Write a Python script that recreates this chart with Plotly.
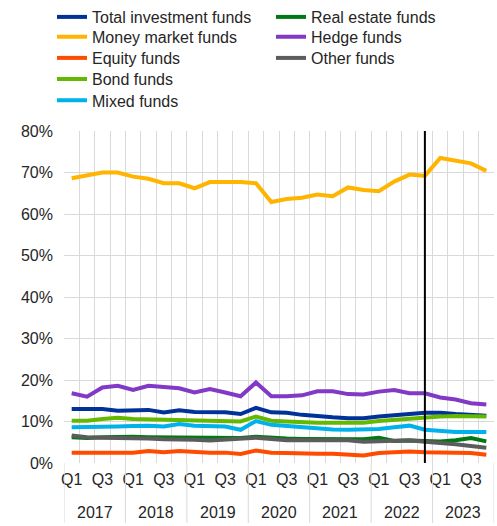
import plotly.graph_objects as go

# Quarterly periods 2017 Q1 - 2023 Q4
years = [2017, 2018, 2019, 2020, 2021, 2022, 2023]
quarter_labels = ["Q1", "", "Q3", ""]
periods = [f"{y} Q{q}" for y in years for q in range(1, 5)]

# Shares in percent, one value per quarter
total_investment = [13.0, 13.0, 13.0, 12.6, 12.8, 12.8, 12.2, 12.7, 12.3, 12.3,
                    12.2, 11.8, 13.3, 12.2, 12.1, 11.6, 11.2, 11.0, 10.8, 10.8,
                    11.2, 11.6, 11.8, 12.1, 12.1, 11.8, 11.7, 11.4]
money_market = [68.6, 69.4, 70.0, 70.0, 69.0, 68.5, 67.4, 67.4, 66.2, 67.7,
                67.7, 67.7, 67.4, 62.9, 63.6, 63.9, 64.7, 64.3, 66.4, 65.8,
                65.5, 67.8, 69.5, 69.2, 73.5, 72.9, 72.2, 70.4]
equity = [2.5, 2.5, 2.5, 2.5, 2.5, 2.9, 2.6, 2.9, 2.6, 2.5,
          2.5, 2.2, 3.0, 2.5, 2.4, 2.2, 2.2, 2.2, 2.1, 1.8,
          2.4, 2.6, 2.8, 2.6, 2.5, 2.5, 2.4, 2.0]
bond = [10.2, 10.2, 10.6, 10.9, 10.6, 10.5, 10.6, 10.5, 10.4, 10.3,
        10.2, 10.0, 11.2, 10.2, 10.0, 9.8, 9.7, 9.7, 9.7, 9.7,
        10.1, 10.4, 10.8, 10.9, 11.2, 11.3, 11.2, 11.2]
mixed = [8.6, 8.6, 8.8, 8.8, 8.9, 9.0, 8.8, 9.4, 9.0, 9.0,
         8.8, 8.0, 10.1, 9.2, 8.9, 8.5, 8.2, 8.1, 8.0, 8.0,
         8.2, 8.6, 9.0, 8.0, 7.7, 7.5, 7.5, 7.5]
real_estate = [6.2, 6.0, 6.2, 6.3, 6.3, 6.2, 6.2, 6.2, 6.2, 6.2,
               6.1, 6.0, 6.3, 6.0, 5.9, 5.8, 5.8, 5.8, 5.6, 5.7,
               6.1, 5.3, 5.4, 5.2, 5.2, 5.5, 6.0, 5.2]
hedge = [16.8, 16.0, 18.2, 18.6, 17.6, 18.6, 18.3, 18.0, 17.0, 17.8,
         17.0, 16.1, 19.4, 16.1, 16.1, 16.3, 17.3, 17.3, 16.6, 16.5,
         17.2, 17.6, 16.8, 16.8, 15.8, 15.3, 14.4, 14.1]
other = [6.6, 6.2, 6.1, 6.1, 6.0, 5.9, 5.7, 5.7, 5.6, 5.4,
         5.6, 5.7, 6.1, 5.8, 5.5, 5.5, 5.5, 5.5, 5.5, 5.1,
         5.3, 5.5, 5.5, 5.1, 4.9, 4.5, 4.1, 3.7]

# name, values, colour, legend column, legend row
series = [
    ("Total investment funds", total_investment, "#003299", 0, 0),
    ("Money market funds", money_market, "#FFB400", 0, 1),
    ("Equity funds", equity, "#FF4B00", 0, 2),
    ("Bond funds", bond, "#65B800", 0, 3),
    ("Mixed funds", mixed, "#00B1EA", 0, 4),
    ("Real estate funds", real_estate, "#007816", 1, 0),
    ("Hedge funds", hedge, "#8139C6", 1, 1),
    ("Other funds", other, "#5C5C5C", 1, 2),
]

W, H = 497, 526
FONT = "Liberation Sans, Arial, sans-serif"
TEXT = "#262626"
GRID = "#d9d9d9"
FS = 16

# legend layout in pixels (left edge of each legend box, centre of first row)
LEG_COL_X = [52, 271]
LEG_ROW0 = 15.5
LEG_ROW_STEP = 21.2
LEG_TOP_OFFSET = 16.9

x = list(range(len(periods)))
fig = go.Figure()
legends = {}
for i, (name, vals, color, col, row) in enumerate(series):
    key = "legend" if i == 0 else f"legend{i + 1}"
    fig.add_trace(go.Scatter(
        x=x, y=vals, name=name, mode="lines", legend=key,
        line=dict(color=color, width=4),
        customdata=periods,
        hovertemplate="%{customdata}: %{y:.1f}%<extra>" + name + "</extra>",
    ))
    top_px = max(0.0, LEG_ROW0 + row * LEG_ROW_STEP - LEG_TOP_OFFSET)
    legends[key] = dict(
        xref="container", yref="container",
        x=LEG_COL_X[col] / W, y=1 - top_px / H,
        xanchor="left", yanchor="top",
        bgcolor="rgba(0,0,0,0)", borderwidth=0,
        font=dict(family=FONT, size=FS, color=TEXT),
    )

# vertical marker at 2022 Q4
marker_idx = periods.index("2022 Q4")
fig.add_shape(type="line", xref="x", yref="paper", x0=marker_idx, x1=marker_idx,
              y0=0, y1=1, line=dict(color="black", width=2), layer="above")

# year separators running through the axis labels
for k in range(len(years) + 1):
    xb = 4 * k - 0.5
    fig.add_shape(type="line", xref="x", yref="paper", x0=xb, x1=xb,
                  y0=0, y1=-0.181, line=dict(color=GRID, width=1))

# year labels
for k, yr in enumerate(years):
    fig.add_annotation(x=4 * k + 1.5, y=-0.148, xref="x", yref="paper",
                       text=str(yr), showarrow=False,
                       font=dict(family=FONT, size=FS, color=TEXT),
                       xanchor="center", yanchor="middle")

fig.update_layout(
    width=W, height=H,
    margin=dict(l=64, r=3, t=131, b=63, autoexpand=False),
    paper_bgcolor="white", plot_bgcolor="white",
    font=dict(family=FONT, size=FS, color=TEXT),
    showlegend=True,
    hovermode="closest",
    **legends,
)

fig.update_xaxes(
    range=[-0.5, len(periods) - 0.5],
    tickmode="array",
    tickvals=x,
    ticktext=[quarter_labels[i % 4] for i in x],
    ticks="", showgrid=False, zeroline=False, showline=False,
    tickfont=dict(family=FONT, size=FS, color=TEXT),
    ticklabelstandoff=5,
    minor=dict(tickmode="linear", tick0=-0.5, dtick=1, showgrid=True,
               gridcolor=GRID, gridwidth=1, ticks=""),
)
fig.update_yaxes(
    range=[0, 80], dtick=10, ticksuffix="%",
    showgrid=True, gridcolor=GRID, gridwidth=1,
    zeroline=False, showline=False, ticks="",
    tickfont=dict(family=FONT, size=FS, color=TEXT),
    ticklabelstandoff=10,
)

fig.write_html("out.html")
